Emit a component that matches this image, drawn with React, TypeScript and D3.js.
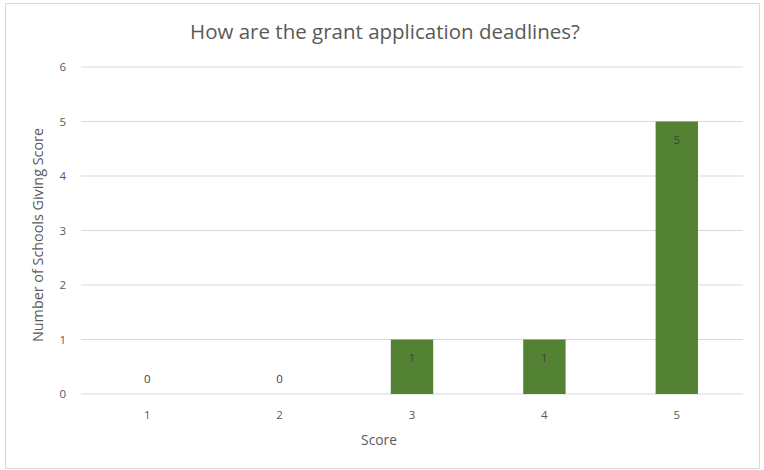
import React from "react";
import * as d3 from "d3";

const categories = ["1", "2", "3", "4", "5"];
const counts = [0, 0, 1, 1, 5];
const yTicks = [0, 1, 2, 3, 4, 5, 6];

const W = 764;
const H = 470;
const margin = { left: 81, right: 21, top: 67, bottom: 76 };
const FONT = "'Open Sans', 'Noto Sans', sans-serif";

export default function App() {
  const x = d3
    .scaleBand<string>()
    .domain(categories)
    .range([margin.left, W - margin.right])
    .paddingInner(0.68)
    .paddingOuter(0.34);
  const y = d3.scaleLinear().domain([0, 6]).range([H - margin.bottom, margin.top]);
  const grey = "#595959";

  return (
    <svg
      width={W}
      height={H}
      style={{ position: "absolute", left: 0, top: 0, background: "#fff" }}
      fontFamily={FONT}
    >
      <rect x={5.5} y={3.5} width={754} height={465} fill="#fff" stroke="#d9d9d9" />
      <text x={385} y={39} textAnchor="middle" fontSize={20.5} fill={grey}>
        How are the grant application deadlines?
      </text>
      {yTicks.map((t) => (
        <g key={t}>
          <line
            x1={margin.left}
            x2={W - margin.right}
            y1={y(t)}
            y2={y(t)}
            stroke="#d9d9d9"
            strokeWidth={1}
          />
          <text x={66} y={y(t) + 4} textAnchor="end" fontSize={11.5} fill={grey}>
            {t}
          </text>
        </g>
      ))}
      {categories.map((c, i) => {
        const v = counts[i];
        const bx = x(c)!;
        const cx = bx + x.bandwidth() / 2;
        return (
          <g key={c}>
            {v > 0 && (
              <rect
                x={bx}
                y={y(v)}
                width={x.bandwidth()}
                height={y(0) - y(v)}
                fill="#548235"
              />
            )}
            <text
              x={cx}
              y={v > 0 ? y(v) + 22 : y(0) - 11}
              textAnchor="middle"
              fontSize={11.5}
              fill="#404040"
            >
              {v}
            </text>
            <text x={cx} y={y(0) + 25} textAnchor="middle" fontSize={11.5} fill={grey}>
              {c}
            </text>
          </g>
        );
      })}
      <text x={379} y={445} textAnchor="middle" fontSize={13.8} fill={grey}>
        Score
      </text>
      <text
        transform={`translate(43, 235) rotate(-90)`}
        textAnchor="middle"
        fontSize={14.5}
        textLength={214}
        lengthAdjust="spacingAndGlyphs"
        fill={grey}
      >
        Number of Schools Giving Score
      </text>
    </svg>
  );
}
